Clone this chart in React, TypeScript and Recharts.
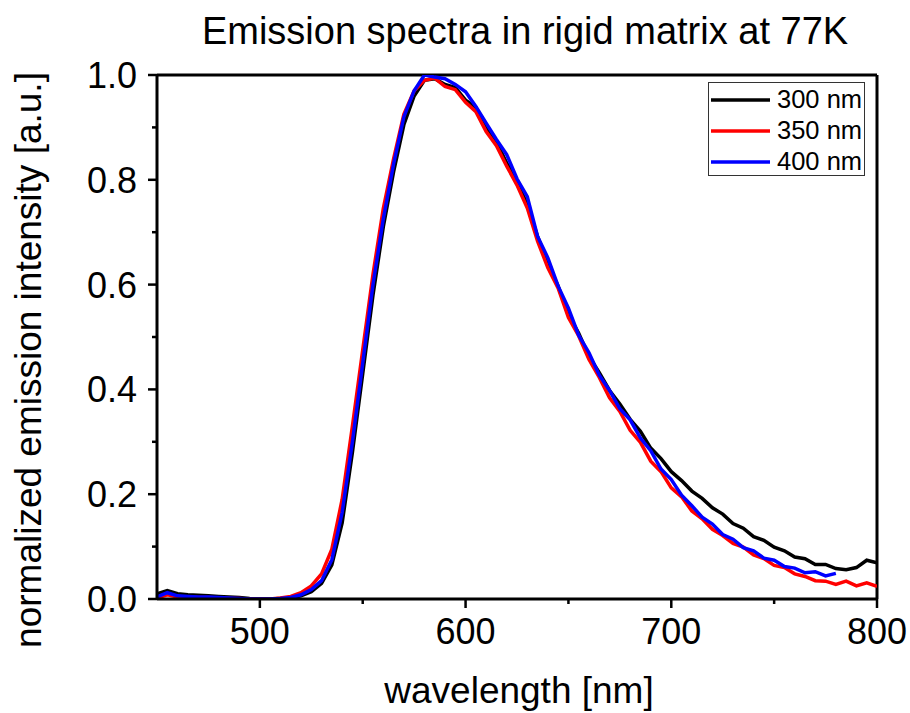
import { LineChart, Line, XAxis, YAxis, ReferenceLine, Legend } from "recharts";

// wavelength grid [nm]
const wavelengths = [
  450, 455, 460, 465, 470, 475, 480, 485, 490, 495,
  500, 505, 510, 515, 520, 525, 530, 535, 540, 545,
  550, 555, 560, 565, 570, 575, 580, 585, 590, 595,
  600, 605, 610, 615, 620, 625, 630, 635, 640, 645,
  650, 655, 660, 665, 670, 675, 680, 685, 690, 695,
  700, 705, 710, 715, 720, 725, 730, 735, 740, 745,
  750, 755, 760, 765, 770, 775, 780, 785, 790, 795,
  800,
];

// excitation 300 nm
const exc300 = [
  0.010, 0.016, 0.010, 0.008, 0.007, 0.006, 0.005, 0.004, 0.003, 0.001,
  0.000, 0.000, 0.001, 0.002, 0.006, 0.014, 0.030, 0.065, 0.145, 0.280,
  0.430, 0.580, 0.710, 0.815, 0.905, 0.960, 0.990, 0.993, 0.982, 0.976,
  0.952, 0.938, 0.898, 0.872, 0.832, 0.797, 0.752, 0.692, 0.640, 0.597,
  0.543, 0.507, 0.463, 0.432, 0.398, 0.372, 0.343, 0.320, 0.288, 0.268,
  0.243, 0.226, 0.206, 0.192, 0.174, 0.162, 0.144, 0.135, 0.119, 0.112,
  0.099, 0.092, 0.080, 0.077, 0.066, 0.066, 0.058, 0.056, 0.060, 0.074,
  0.069,
];

// excitation 350 nm
const exc350 = [
  0.002, 0.008, 0.004, 0.004, 0.003, 0.003, 0.002, 0.001, 0.001, 0.000,
  0.000, 0.000, 0.002, 0.005, 0.012, 0.025, 0.048, 0.095, 0.190, 0.330,
  0.475, 0.620, 0.745, 0.840, 0.925, 0.970, 0.990, 0.994, 0.978, 0.972,
  0.948, 0.930, 0.892, 0.865, 0.826, 0.790, 0.746, 0.683, 0.632, 0.593,
  0.537, 0.502, 0.457, 0.423, 0.384, 0.358, 0.322, 0.299, 0.263, 0.243,
  0.212, 0.195, 0.168, 0.153, 0.133, 0.121, 0.106, 0.099, 0.084, 0.077,
  0.064, 0.060, 0.048, 0.043, 0.035, 0.034, 0.028, 0.034, 0.025, 0.031,
  0.024,
];

// excitation 400 nm
const exc400 = [
  0.004, 0.012, 0.006, 0.005, 0.004, 0.004, 0.003, 0.002, 0.001, 0.000,
  0.000, 0.000, 0.001, 0.003, 0.008, 0.018, 0.035, 0.075, 0.165, 0.300,
  0.450, 0.600, 0.725, 0.830, 0.920, 0.970, 1.000, 0.996, 0.993, 0.982,
  0.968, 0.940, 0.908, 0.877, 0.848, 0.802, 0.768, 0.692, 0.651, 0.597,
  0.555, 0.503, 0.470, 0.427, 0.398, 0.363, 0.342, 0.307, 0.283, 0.248,
  0.228, 0.198, 0.178, 0.156, 0.143, 0.123, 0.114, 0.098, 0.092, 0.078,
  0.074, 0.062, 0.059, 0.050, 0.052, 0.044, 0.049, null, null, null,
  null,
];

const seriesNames = ["300 nm", "350 nm", "400 nm"];
const seriesColors = ["#000000", "#ff0000", "#0000ff"];

const xTicks = [500, 550, 600, 650, 700, 750, 800];
const xMajor = [500, 600, 700, 800];
const yTicks = [0, 0.1, 0.2, 0.3, 0.4, 0.5, 0.6, 0.7, 0.8, 0.9, 1.0];

const data = wavelengths.map((w, i) => ({
  w,
  a: exc300[i],
  b: exc350[i],
  c: exc400[i],
}));

const FONT = "'Liberation Sans', Arial, sans-serif";

function XTick(props: any) {
  const { x, y, payload } = props;
  const major = xMajor.includes(payload.value);
  return (
    <g>
      <line x1={x} x2={x} y1={y} y2={y + (major ? 9 : 5)} stroke="#000" strokeWidth={2.5} />
      {major && (
        <text x={x} y={y + 45} textAnchor="middle" fontSize={36} fontFamily={FONT} fill="#000">
          {payload.value}
        </text>
      )}
    </g>
  );
}

function YTick(props: any) {
  const { x, y, payload } = props;
  const major = Math.round(payload.value * 10) % 2 === 0;
  return (
    <g>
      <line x1={x} x2={x - (major ? 9 : 5)} y1={y} y2={y} stroke="#000" strokeWidth={2.5} />
      {major && (
        <text x={x - 20} y={y} dy="0.36em" textAnchor="end" fontSize={36} fontFamily={FONT} fill="#000">
          {payload.value.toFixed(1)}
        </text>
      )}
    </g>
  );
}

function LegendBox() {
  return (
    <div
      style={{
        border: "1px solid #333",
        background: "#fff",
        width: 155,
        height: 92,
        boxSizing: "content-box",
        fontFamily: FONT,
        fontSize: 25.5,
      }}
    >
      {seriesNames.map((n, i) => (
        <div key={n} style={{ display: "flex", alignItems: "center", height: 31, marginTop: i === 0 ? 1 : 0 }}>
          <svg width={66} height={10} style={{ marginLeft: 2 }}>
            <line x1={0} x2={59} y1={5} y2={5} stroke={seriesColors[i]} strokeWidth={3.5} />
          </svg>
          <span style={{ lineHeight: "31px" }}>{n}</span>
        </div>
      ))}
    </div>
  );
}

export default function App() {
  // drop the default body margin so the chart fills the 910x713 window
  return (
    <div style={{ width: 910, height: 713 }}>
      <style>{"body { margin: 0; }"}</style>
      <LineChart
        width={910}
        height={713}
        data={data}
        margin={{ top: 75, right: 33, bottom: 74, left: 97 }}
      >
        <text x={525} y={44} textAnchor="middle" fontSize={38} fontFamily={FONT} fill="#000">
          Emission spectra in rigid matrix at 77K
        </text>
        <text x={519} y={703} textAnchor="middle" fontSize={37} fontFamily={FONT} fill="#000">
          wavelength [nm]
        </text>
        <text
          x={41}
          y={360}
          transform="rotate(-90, 41, 360)"
          textAnchor="middle"
          fontSize={37}
          fontFamily={FONT}
          fill="#000"
        >
          normalized emission intensity [a.u.]
        </text>
        <XAxis
          dataKey="w"
          type="number"
          domain={[450, 800]}
          ticks={xTicks}
          height={40}
          tickSize={0}
          tickMargin={0}
          tickLine={false}
          axisLine={{ stroke: "#000", strokeWidth: 3 }}
          tick={<XTick />}
          allowDataOverflow
        />
        <YAxis
          type="number"
          domain={[0, 1]}
          ticks={yTicks}
          width={60}
          tickSize={0}
          tickMargin={0}
          tickLine={false}
          axisLine={{ stroke: "#000", strokeWidth: 3 }}
          tick={<YTick />}
          allowDataOverflow
        />
        <ReferenceLine y={1} stroke="#000" strokeWidth={3} />
        <ReferenceLine x={800} stroke="#000" strokeWidth={3} />
        <Line dataKey="a" stroke={seriesColors[0]} strokeWidth={3.5} dot={false} isAnimationActive={false} connectNulls={false} />
        <Line dataKey="b" stroke={seriesColors[1]} strokeWidth={3.5} dot={false} isAnimationActive={false} connectNulls={false} />
        <Line dataKey="c" stroke={seriesColors[2]} strokeWidth={3.5} dot={false} isAnimationActive={false} connectNulls={false} />
        <Legend
          layout="horizontal"
          verticalAlign="middle"
          align="center"
          content={() => <LegendBox />}
          wrapperStyle={{ left: 708, top: 82, width: 157, height: 94 }}
        />
      </LineChart>
    </div>
  );
}
